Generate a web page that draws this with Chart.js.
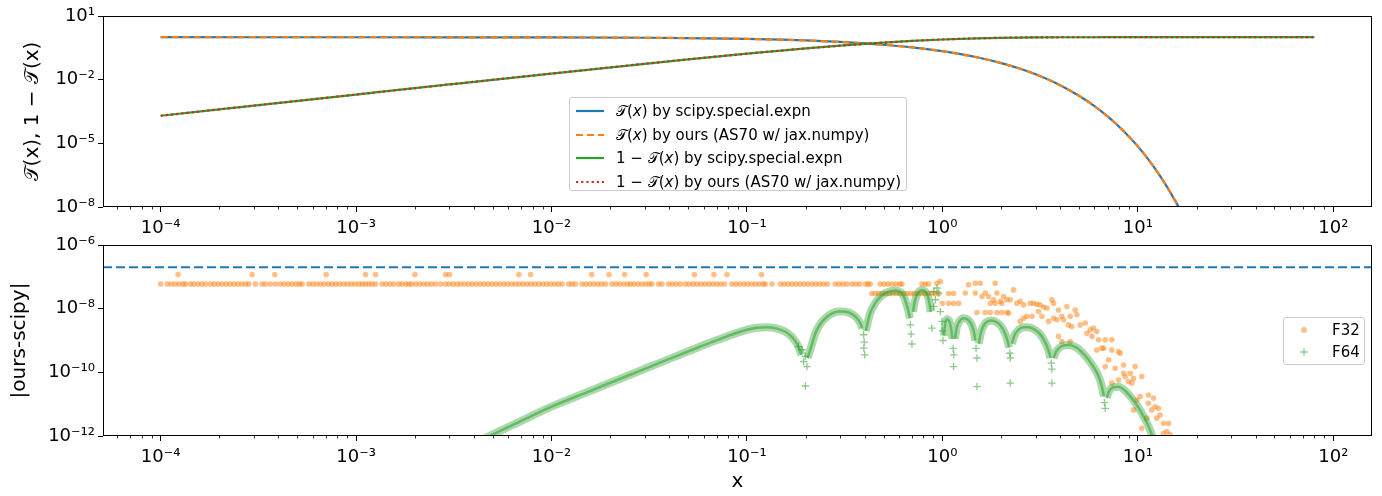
<!DOCTYPE html>
<html>
<head>
<meta charset="utf-8">
<script src="https://cdn.jsdelivr.net/npm/chart.js@4.4.1/dist/chart.umd.min.js"></script>
<style>
  html, body { margin: 0; padding: 0; background: #fff; }
  #wrap { position: relative; width: 1382px; height: 496px; overflow: hidden; font-family: 'DejaVu Sans', sans-serif; }
  canvas { position: absolute; left: 0; }
  #topCanvas { top: 0; }
  #botCanvas { top: 226px; }
  .legend { position: absolute; box-sizing: border-box; background: rgba(255,255,255,0.8);
            border: 1px solid #cccccc; border-radius: 3px; font-size: 15px; color: #000; }
  .legend .row { position: absolute; left: 0; height: 20px; width: 100%; }
  .legend svg { position: absolute; top: 0; }
  .legend span { position: absolute; top: 0; line-height: 20px; white-space: nowrap; }
</style>
</head>
<body>
<div id="wrap">
  <canvas id="topCanvas" width="1382" height="240"></canvas>
  <canvas id="botCanvas" width="1382" height="270"></canvas>

  <div class="legend" style="left:569px;top:97px;width:338px;height:94px;">
    <div class="row" style="top:3px"><svg width="30" height="20" style="left:5px"><line x1="1" y1="10" x2="29" y2="10" stroke="#1f77b4" stroke-width="2.2"/></svg><span style="left:46px">𝒯(<i>x</i>) by scipy.special.expn</span></div>
    <div class="row" style="top:26.5px"><svg width="30" height="20" style="left:5px"><line x1="1" y1="10" x2="29" y2="10" stroke="#ff7f0e" stroke-width="2.2" stroke-dasharray="7 4"/></svg><span style="left:46px">𝒯(<i>x</i>) by ours (AS70 w/ jax.numpy)</span></div>
    <div class="row" style="top:50px"><svg width="30" height="20" style="left:5px"><line x1="1" y1="10" x2="29" y2="10" stroke="#2ca02c" stroke-width="2.2"/></svg><span style="left:46px">1 − 𝒯(<i>x</i>) by scipy.special.expn</span></div>
    <div class="row" style="top:73.5px"><svg width="30" height="20" style="left:5px"><line x1="1" y1="10" x2="29" y2="10" stroke="#d62728" stroke-width="2.2" stroke-dasharray="2.2 3"/></svg><span style="left:46px">1 − 𝒯(<i>x</i>) by ours (AS70 w/ jax.numpy)</span></div>
  </div>

  <div class="legend" style="left:1283px;top:317px;width:82px;height:48px;">
    <div class="row" style="top:1.5px"><svg width="20" height="20" style="left:10px"><circle cx="10" cy="10" r="3" fill="rgba(255,127,14,0.5)"/></svg><span style="left:48px">F32</span></div>
    <div class="row" style="top:24px"><svg width="20" height="20" style="left:10px"><path d="M10 6.3 V13.7 M6.3 10 H13.7" stroke="rgba(44,160,44,0.55)" stroke-width="1.3"/></svg><span style="left:48px">F64</span></div>
  </div>
</div>

<script>
// ------------------------------------------------------------
// data (both panels share the x axis)
// ------------------------------------------------------------
const X_MIN = 5.07e-5, X_MAX = 157.8;
const xTicks = [1e-4, 1e-3, 1e-2, 1e-1, 1, 10, 100];
const topYTicks = [10, 1e-2, 1e-5, 1e-8];
const botYTicks = [1e-6, 1e-8, 1e-10, 1e-12];

// top panel: T(x) and 1 - T(x)
const lineX = [1e-4, 1e-3, 3e-3, 0.01, 0.03, 0.05, 0.1, 0.15, 0.2, 0.3, 0.4, 0.5, 0.7, 1, 1.5, 2, 2.5, 3, 4, 5, 6, 7, 8, 10, 12, 14, 16, 18, 20, 40, 80];
const tScipy = [0.9998, 0.998, 0.994, 0.9806, 0.944, 0.9098, 0.8326, 0.7646, 0.7039, 0.6001, 0.5146, 0.4431, 0.3321, 0.2194, 0.1135, 0.0603, 0.0326, 0.01786,
  5.52e-3, 1.75e-3, 5.69e-4, 1.87e-4, 6.24e-5, 7.2e-6, 8.4e-7, 9.9e-8, 1.19e-8, 1.46e-9, 1.8e-10, null, null];
const oneMinusT = [2.0e-4, 1.99e-3, 5.94e-3, 0.01945, 0.056, 0.0902, 0.1674, 0.2354, 0.2961, 0.3999, 0.4854, 0.5569, 0.6679, 0.7806, 0.8865, 0.9397, 0.9674, 0.9821,
  0.9945, 0.9983, 0.9994, 0.9998, 0.99994, 1, 1, 1, 1, 1, 1, 1, 1];
// "ours" sits exactly on top of scipy at this scale
const tOurs = tScipy.slice();
const oneMinusTOurs = oneMinusT.slice();

// bottom panel: |ours - scipy|
const tolLevel = 2e-7;                      // dashed blue line
const f32Levels = [1.19e-7, 5.96e-8, 2.98e-8];
// log10(x) of the F32 points sitting on each quantised level
const f32HiLogX = [-3.911, -3.532, -3.416, -3.153, -2.951, -2.900, -2.699, -2.542, -2.522, -2.167, -2.107, -1.795, -1.706, -1.626, -1.516, -1.269, -1.169, -1.102, -0.926];
const f32MidLogX = [
  -4.00, -3.965, -3.945, -3.925, -3.905, -3.885, -3.873, -3.847, -3.83, -3.81, -3.79, -3.77,
  -3.745, -3.725, -3.705, -3.685, -3.665, -3.645, -3.625, -3.605, -3.585, -3.565, -3.549,
  -3.515, -3.481, -3.463, -3.438, -3.412, -3.387, -3.367, -3.347, -3.327, -3.307, -3.29, -3.276,
  -3.242, -3.222, -3.202, -3.182, -3.162, -3.142, -3.123, -3.105, -3.085, -3.065, -3.045, -3.025, -3.005, -2.985, -2.968, -2.952,
  -2.935, -2.918, -2.901, -2.867, -2.847, -2.827, -2.807, -2.782, -2.765, -2.745, -2.73,
  -2.715, -2.695, -2.675, -2.655, -2.635, -2.615, -2.594, -2.568, -2.543, -2.523, -2.503, -2.483,
  -2.465, -2.445, -2.425, -2.405, -2.385, -2.365, -2.345, -2.325, -2.305, -2.285, -2.265, -2.245, -2.225, -2.205, -2.185,
  -2.165, -2.145, -2.125, -2.105, -2.085, -2.065, -2.045, -2.025, -2.005, -1.985, -1.965, -1.946, -1.912, -1.895, -1.878,
  -1.844, -1.824, -1.804, -1.784, -1.764, -1.744, -1.724, -1.691, -1.671, -1.651, -1.631, -1.611, -1.596,
  -1.578, -1.558, -1.538, -1.518, -1.5, -1.486, -1.452, -1.435, -1.401, -1.381, -1.361, -1.341,
  -1.315, -1.295, -1.275, -1.255, -1.235, -1.215, -1.195, -1.175, -1.155, -1.135, -1.115,
  -1.077, -1.057, -1.037, -1.017, -0.997, -0.977, -0.957, -0.937, -0.917, -0.906, -0.872,
  -0.829, -0.809, -0.789, -0.769, -0.749, -0.729, -0.709, -0.689, -0.669, -0.649, -0.629, -0.609, -0.589,
  -0.548, -0.528, -0.508, -0.488, -0.463, -0.443, -0.423, -0.394, -0.38, -0.369,
  -0.318, -0.298, -0.278, -0.258, -0.238, -0.218, -0.207, -0.105, -0.088, -0.071];
const f32LowLogX = [-0.361, -0.343, -0.325, -0.307, -0.289, -0.271, -0.253, -0.235, -0.217, -0.199, -0.181, -0.163, -0.145, -0.127, -0.109, -0.091, -0.073, -0.055, -0.037, -0.019, 0.032, 0.057];
// remaining F32 points, [log10 x, log10 err]
const f32Scatter = [
  [-0.028, -7.20], [-0.011, -7.15], [0.000, -7.83], [0.032, -7.83], [0.057, -7.83], [0.083, -7.83],
  [0.117, -7.51], [0.134, -7.25], [0.168, -7.20], [0.194, -7.20], [0.168, -7.51], [0.202, -7.62], [0.219, -7.51], [0.236, -7.62],
  [0.270, -7.20], [0.279, -7.51], [0.262, -7.72], [0.296, -7.77], [0.313, -7.62], [0.330, -7.72],
  [0.177, -8.12], [0.219, -8.12], [0.245, -8.12], [0.279, -8.12], [0.304, -8.12], [0.330, -8.12], [0.245, -7.83], [0.270, -7.83], [0.304, -7.83],
  [0.364, -7.41], [0.347, -7.72], [0.339, -8.14], [0.381, -7.83], [0.398, -7.77], [0.415, -7.88], [0.449, -7.83], [0.466, -7.83], [0.483, -7.86],
  [0.500, -7.88], [0.518, -7.95], [0.535, -7.98], [0.560, -7.72], [0.569, -7.83], [0.594, -8.04], [0.637, -7.93], [0.679, -8.04], [0.688, -8.19],
  [0.492, -8.09], [0.432, -8.24], [0.458, -8.24], [0.415, -8.30], [0.398, -8.40], [0.509, -8.24], [0.543, -8.40], [0.569, -8.30], [0.586, -8.35],
  [0.611, -8.24], [0.620, -8.35], [0.654, -8.24], [0.645, -8.51], [0.662, -8.56], [0.705, -8.51], [0.731, -8.45], [0.756, -8.66], [0.773, -8.61],
  [0.739, -8.77], [0.790, -8.72], [0.594, -8.87], [0.611, -9.03], [0.654, -9.03], [0.765, -8.87], [0.799, -8.98], [0.833, -8.98], [0.867, -8.98],
  [0.790, -9.30], [0.816, -9.24], [0.867, -9.30], [0.910, -9.40], [0.833, -9.82], [0.884, -9.87], [0.927, -9.77], [0.935, -10.14], [0.978, -10.19],
  [0.986, -9.82], [0.978, -11.18], [0.995, -10.87], [0.825, -9.24], [0.901, -9.35], [0.850, -9.61], [0.927, -10.03], [0.961, -10.03], [1.020, -10.13],
  [0.952, -10.29], [0.969, -10.34], [0.901, -10.24], [0.867, -10.34], [1.012, -10.76], [1.054, -10.71], [1.080, -10.81], [1.054, -10.97],
  [1.088, -11.08], [1.105, -11.13], [1.071, -11.18], [1.114, -11.34], [1.097, -11.44], [1.046, -11.44], [1.131, -11.60], [1.020, -11.76],
  [1.148, -11.86], [1.131, -11.92], [1.157, -11.60], [1.165, -11.95]];
// F64: dense runs of points that read as a continuous band, one array per arch
const f64Arches = [
  [[-2.40, -12.25], [-2.30, -11.95], [-2.20, -11.66], [-2.00, -11.08], [-1.80, -10.58], [-1.62, -10.13], [-1.45, -9.71], [-1.28, -9.29],
   [-1.15, -8.98], [-1.01, -8.68], [-0.95, -8.60], [-0.90, -8.58], [-0.85, -8.62], [-0.79, -8.78], [-0.755, -9.00], [-0.735, -9.22], [-0.722, -9.45]],
  [[-0.690, -9.55], [-0.676, -9.29], [-0.662, -9.00], [-0.650, -8.77], [-0.625, -8.48], [-0.599, -8.30], [-0.565, -8.15], [-0.531, -8.09],
   [-0.505, -8.09], [-0.480, -8.12], [-0.455, -8.20], [-0.437, -8.30], [-0.420, -8.46], [-0.410, -8.62]],
  [[-0.392, -8.70], [-0.383, -8.45], [-0.370, -8.15], [-0.355, -7.95], [-0.335, -7.75], [-0.312, -7.60], [-0.290, -7.51], [-0.265, -7.45],
   [-0.241, -7.43], [-0.222, -7.46], [-0.207, -7.52], [-0.193, -7.68], [-0.182, -7.90], [-0.172, -8.12], [-0.166, -8.30]],
  [[-0.150, -8.10], [-0.145, -7.88], [-0.135, -7.64], [-0.122, -7.48], [-0.108, -7.42], [-0.096, -7.43], [-0.083, -7.50], [-0.074, -7.62],
   [-0.066, -7.85], [-0.060, -8.10]],
  [[0.008, -8.85], [0.014, -8.50], [0.023, -8.33], [0.034, -8.38], [0.044, -8.60], [0.051, -8.95]],
  [[0.064, -8.95], [0.074, -8.58], [0.090, -8.37], [0.108, -8.30], [0.127, -8.33], [0.146, -8.46], [0.160, -8.70], [0.169, -9.00]],
  [[0.186, -9.10], [0.196, -8.78], [0.212, -8.52], [0.232, -8.40], [0.253, -8.37], [0.276, -8.42], [0.300, -8.55], [0.320, -8.77], [0.334, -9.02], [0.341, -9.22]],
  [[0.355, -9.10], [0.370, -8.82], [0.390, -8.66], [0.415, -8.58], [0.441, -8.58], [0.470, -8.65], [0.500, -8.80], [0.526, -9.06], [0.544, -9.33], [0.553, -9.55]],
  [[0.568, -9.55], [0.585, -9.32], [0.610, -9.18], [0.646, -9.14], [0.685, -9.22], [0.731, -9.48], [0.770, -9.80], [0.799, -10.12], [0.815, -10.42], [0.826, -10.75]],
  [[0.841, -10.80], [0.852, -10.60], [0.875, -10.47], [0.901, -10.45], [0.935, -10.58], [0.969, -10.81], [1.000, -11.08], [1.020, -11.28],
   [1.055, -11.70], [1.072, -11.97], [1.100, -12.45]]];
// F64 points that stand apart near the dips
const f64Stray = [
  [-0.736, -9.19], [-0.719, -9.29], [-0.701, -9.50], [-0.710, -9.66], [-0.693, -9.82], [-0.701, -10.43],
  [-0.403, -8.82], [-0.400, -9.05], [-0.402, -9.24], [-0.398, -9.45],
  [-0.164, -8.51], [-0.160, -8.80], [-0.156, -9.11],
  [-0.054, -8.61], [-0.044, -7.46], [-0.028, -7.35], [-0.019, -7.51], [-0.036, -7.72], [-0.044, -7.93], [-0.011, -8.09], [-0.002, -8.40], [0.000, -8.70], [0.003, -9.00],
  [0.055, -9.25], [0.058, -9.45], [0.057, -9.82],
  [0.172, -9.25], [0.177, -9.55], [0.177, -10.45],
  [0.345, -9.40], [0.347, -9.55], [0.347, -10.34],
  [0.557, -9.71], [0.560, -9.90], [0.560, -10.34],
  [0.829, -10.95], [0.833, -11.13]];

// ------------------------------------------------------------
const BLUE = '#1f77b4', ORANGE = '#ff7f0e', GREEN = '#2ca02c', RED = '#d62728';
const SUP = { '-': '⁻', '0': '⁰', '1': '¹', '2': '²', '3': '³', '4': '⁴', '5': '⁵', '6': '⁶', '7': '⁷', '8': '⁸', '9': '⁹' };

Chart.defaults.font.family = "'DejaVu Sans', sans-serif";
Chart.defaults.color = '#000';

function pow10Label(v) {
  const e = Math.round(Math.log10(v));
  return '10' + String(e).split('').map(c => SUP[c]).join('');
}
const fromLog = p => ({ x: Math.pow(10, p[0]), y: Math.pow(10, p[1]) });

// box round the axes + log minor ticks on x
const framePlugin = {
  id: 'frame',
  afterDraw(chart) {
    const { ctx, chartArea: a, scales } = chart;
    ctx.save();
    ctx.strokeStyle = '#000';
    ctx.lineWidth = 1;
    const l = Math.round(a.left) + 0.5, t = Math.round(a.top) + 0.5;
    const r = Math.round(a.right) - 0.5, b = Math.round(a.bottom) - 0.5;
    ctx.strokeRect(l, t, r - l, b - t);
    const xs = scales.x;
    ctx.lineWidth = 0.8;
    ctx.beginPath();
    for (let e = -5; e <= 2; e++) {
      for (let m = 2; m <= 9; m++) {
        const v = m * Math.pow(10, e);
        if (v < xs.min || v > xs.max) continue;
        const px = Math.round(xs.getPixelForValue(v)) + 0.5;
        ctx.moveTo(px, b);
        ctx.lineTo(px, b + 3);
      }
    }
    ctx.stroke();
    ctx.restore();
  }
};

function logAxis(min, max, ticks, pad, extra) {
  return Object.assign({
    type: 'logarithmic', min, max,
    afterBuildTicks: s => { s.ticks = ticks.map(v => ({ value: v })); },
    ticks: { callback: v => pow10Label(v), font: { size: 18 }, color: '#000', padding: pad, autoSkip: false, maxRotation: 0, minRotation: 0 },
    grid: { drawOnChartArea: false, drawTicks: true, tickLength: 5, color: '#000', lineWidth: 1 },
    border: { display: false },
  }, extra);
}

function panelOptions(o) {
  return {
    responsive: false, animation: false, events: [],
    layout: { padding: { top: o.padTop, right: 10, left: 0, bottom: 0 } },
    plugins: { legend: { display: false }, tooltip: { enabled: false } },
    scales: {
      x: logAxis(X_MIN, X_MAX, xTicks, 6, {
        afterFit: s => { s.height = o.xHeight; },
        title: o.xTitle
          ? { display: true, text: o.xTitle, font: { size: 20 }, padding: { top: 0, bottom: 2 }, color: '#000' }
          : { display: false },
      }),
      y: logAxis(o.yMin, o.yMax, o.yTicks, 3, {
        // fixed width, and no extra room for the end labels so the plot box stays put
        afterFit: s => { s.width = 103; s.paddingTop = 0; s.paddingBottom = 0; },
        title: { display: true, text: o.yTitle, font: { size: 20 }, padding: { top: o.yTitlePad, bottom: 0 }, color: '#000' },
      }),
    },
  };
}

function curve(label, xs, ys, color, dash, order) {
  return {
    label, order, showLine: true, clip: 0,
    data: xs.map((x, i) => ({ x, y: ys[i] })),
    borderColor: color, borderWidth: 2.2, borderDash: dash,
    pointRadius: 0, cubicInterpolationMode: 'monotone', spanGaps: false,
  };
}

new Chart(document.getElementById('topCanvas'), {
  type: 'scatter',
  data: {
    datasets: [
      curve('T(x) by scipy.special.expn', lineX, tScipy, BLUE, [], 4),
      curve('T(x) by ours (AS70 w/ jax.numpy)', lineX, tOurs, ORANGE, [7, 4], 3),
      curve('1 - T(x) by scipy.special.expn', lineX, oneMinusT, GREEN, [], 2),
      curve('1 - T(x) by ours (AS70 w/ jax.numpy)', lineX, oneMinusTOurs, RED, [2.2, 3], 1),
    ],
  },
  options: panelOptions({ padTop: 16, xHeight: 33, yMin: 1e-8, yMax: 10, yTicks: topYTicks, yTitle: '𝒯(x), 1 − 𝒯(x)', yTitlePad: 21 }),
  plugins: [framePlugin],
});

// F64 band: arches joined, broken with a gap point between arches
const f64Band = [];
f64Arches.forEach((arch, i) => {
  if (i > 0) f64Band.push({ x: Math.pow(10, arch[0][0]), y: null });
  arch.forEach(p => f64Band.push(fromLog(p)));
});

const f32Points = [
  ...f32HiLogX.map(lx => ({ x: Math.pow(10, lx), y: f32Levels[0] })),
  ...f32MidLogX.map(lx => ({ x: Math.pow(10, lx), y: f32Levels[1] })),
  ...f32LowLogX.map(lx => ({ x: Math.pow(10, lx), y: f32Levels[2] })),
  ...f32Scatter.map(fromLog),
];

new Chart(document.getElementById('botCanvas'), {
  type: 'scatter',
  data: {
    datasets: [
      { label: 'F64', order: 1, data: f64Stray.map(fromLog), clip: 0,
        pointStyle: 'cross', pointRadius: 3.7, borderWidth: 1.3, borderColor: 'rgba(44,160,44,0.55)', backgroundColor: 'rgba(44,160,44,0.55)' },
      { label: 'F64 core', order: 2, data: f64Band, showLine: true, spanGaps: false, clip: 0, cubicInterpolationMode: 'monotone',
        borderColor: 'rgba(44,160,44,0.55)', borderWidth: 2.5, pointRadius: 0 },
      { label: 'F64 band', order: 3, data: f64Band, showLine: true, spanGaps: false, clip: 0, cubicInterpolationMode: 'monotone',
        borderColor: 'rgba(44,160,44,0.4)', borderWidth: 8, pointRadius: 0 },
      { label: 'F32', order: 4, data: f32Points, clip: 0,
        pointStyle: 'circle', pointRadius: 2.8, borderWidth: 0, backgroundColor: 'rgba(255,127,14,0.5)' },
      { label: 'tol', order: 5, data: [{ x: X_MIN, y: tolLevel }, { x: X_MAX, y: tolLevel }], showLine: true, clip: 0,
        borderColor: BLUE, borderWidth: 2.2, borderDash: [9, 4], pointRadius: 0 },
    ],
  },
  options: panelOptions({ padTop: 19, xHeight: 60, xTitle: 'x', yMin: 1e-12, yMax: 1e-6, yTicks: botYTicks, yTitle: '|ours-scipy|', yTitlePad: 8 }),
  plugins: [framePlugin],
});
</script>
</body>
</html>
